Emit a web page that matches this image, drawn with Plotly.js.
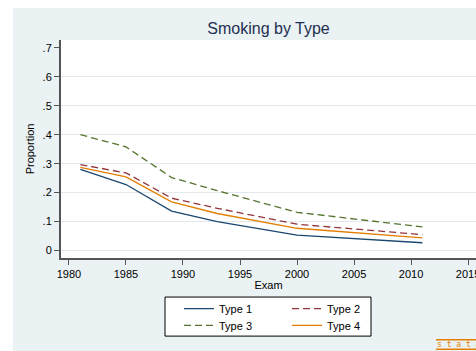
<!DOCTYPE html>
<html>
<head>
<meta charset="utf-8">
<script src="https://cdn.plot.ly/plotly-3.0.1.min.js"></script>
<style>
html, body { margin:0; padding:0; background:#ffffff; width:476px; height:351px; overflow:hidden; }
#chart { position:absolute; left:13px; top:8px; width:480px; height:345px; }
</style>
</head>
<body>
<div id="chart"></div>
<script>
// ---- data ----
const years = [1981, 1985, 1989, 1993, 2000, 2011];
const type1 = [0.280, 0.228, 0.136, 0.100, 0.053, 0.027];
const type2 = [0.297, 0.268, 0.181, 0.146, 0.091, 0.055];
const type3 = [0.400, 0.358, 0.252, 0.207, 0.132, 0.082];
const type4 = [0.287, 0.254, 0.168, 0.128, 0.077, 0.044];
const seriesNames = ['Type 1', 'Type 2', 'Type 3', 'Type 4'];

const xTickVals = [1980, 1985, 1990, 1995, 2000, 2005, 2010, 2015];
const yTickVals = [0, 0.1, 0.2, 0.3, 0.4, 0.5, 0.6, 0.7];
const yTickText = ['0', '.1', '.2', '.3', '.4', '.5', '.6', '.7'];
const yGridVals = [0, 0.1, 0.2, 0.3, 0.4, 0.5, 0.6];

const colors = ['#1a476f', '#90353b', '#55752f', '#e37e00'];
const dashes = ['solid', '7px,4px', '7px,4px', 'solid'];
const legendIds = ['legend', 'legend', 'legend2', 'legend2'];
const values = [type1, type2, type3, type4];

const font = 'Arial, "Liberation Sans", Helvetica, sans-serif';

const traces = values.map((v, i) => ({
  x: years, y: v, type: 'scatter', mode: 'lines',
  name: seriesNames[i],
  line: { color: colors[i], width: 1.3, dash: dashes[i] },
  legend: legendIds[i],
  yaxis: 'y'
}));
// invisible helper trace to own the grid axis
traces.push({ x: [years[0]], y: [type1[0]], yaxis: 'y2', mode: 'lines', showlegend: false,
  hoverinfo: 'skip', line: { width: 0 } });

const legendCommon = {
  orientation: 'h', xref: 'paper', yref: 'paper', xanchor: 'left', yanchor: 'middle',
  bgcolor: 'rgba(0,0,0,0)', borderwidth: 0,
  font: { family: font, size: 11, color: '#000' },
  entrywidth: 63, entrywidthmode: 'pixels', traceorder: 'normal'
};

const layout = {
  width: 480, height: 345,
  margin: { l: 48, r: 17, t: 32, b: 95.3, autoexpand: false },
  paper_bgcolor: '#eaf2f3',
  plot_bgcolor: '#ffffff',
  font: { family: font, size: 11, color: '#000' },
  title: {
    text: 'Smoking by Type',
    font: { family: font, size: 16, color: '#1e2f50' },
    x: 0.5, xref: 'paper', xanchor: 'center',
    y: 1 - 20 / 345, yref: 'container', yanchor: 'middle'
  },
  xaxis: {
    range: [1979.30, 2015.70],
    tickvals: xTickVals,
    ticks: 'outside', ticklen: 5, tickwidth: 1, tickcolor: '#555',
    showline: true, linecolor: '#555', linewidth: 2,
    showgrid: false, zeroline: false,
    tickfont: { family: font, size: 11, color: '#000' },
    title: { text: 'Exam', standoff: 2, font: { family: font, size: 11, color: '#000' } }
  },
  yaxis: {
    range: [-0.0256, 0.7267],
    tickvals: yTickVals, ticktext: yTickText,
    ticks: 'outside', ticklen: 5, tickwidth: 1, tickcolor: '#555',
    showline: true, linecolor: '#555', linewidth: 2,
    showgrid: false, zeroline: false,
    tickfont: { family: font, size: 11, color: '#000' },
    title: { text: 'Proportion', standoff: 6, font: { family: font, size: 11, color: '#000' } }
  },
  yaxis2: {
    overlaying: 'y', range: [-0.0256, 0.7267],
    tickvals: yGridVals, showticklabels: false, ticks: '',
    showgrid: true, gridcolor: '#e1e9ec', gridwidth: 1,
    zeroline: false, showline: false
  },
  legend: Object.assign({}, legendCommon, { x: (179 - 61) / 415, y: (249.7 - 300.3) / 217.7 }),
  legend2: Object.assign({}, legendCommon, { x: (179 - 61) / 415, y: (249.7 - 317) / 217.7 }),
  shapes: [
    { type: 'rect', xref: 'paper', yref: 'paper',
      x0: (165 - 61) / 415, x1: (371 - 61) / 415,
      y0: (249.7 - 288.7) / 217.7, y1: (249.7 - 327.7) / 217.7,
      fillcolor: '#ffffff', line: { color: '#000', width: 1 }, layer: 'below' },
    { type: 'line', xref: 'paper', yref: 'paper',
      x0: (436 - 61) / 415, x1: 1.1, y0: (249.7 - 331.3) / 217.7, y1: (249.7 - 331.3) / 217.7,
      line: { color: '#e37e00', width: 1.5 } },
    { type: 'line', xref: 'paper', yref: 'paper',
      x0: (436 - 61) / 415, x1: 1.1, y0: (249.7 - 340.7) / 217.7, y1: (249.7 - 340.7) / 217.7,
      line: { color: '#e37e00', width: 1.5 } }
  ],
  annotations: [
    { text: 's t a t a', xref: 'paper', yref: 'paper', showarrow: false,
      x: (435 - 61) / 415, xanchor: 'left', y: (249.7 - 336) / 217.7, yanchor: 'middle',
      font: { family: '"DejaVu Sans Mono", monospace', size: 8, color: '#e37e00' } }
  ],
  showlegend: true
};

Plotly.newPlot('chart', traces, layout, { displayModeBar: false, staticPlot: true });
</script>
</body>
</html>
